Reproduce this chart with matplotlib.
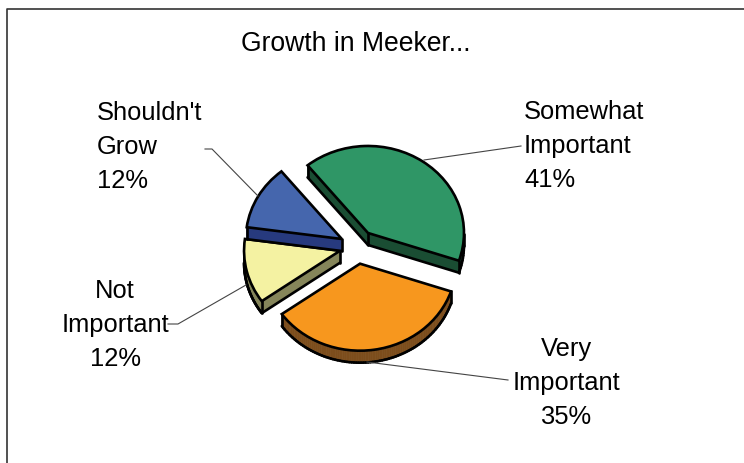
import matplotlib
matplotlib.use('Agg')
import matplotlib.pyplot as plt
import numpy as np
from matplotlib.lines import Line2D
from matplotlib.patches import Polygon

names = ['Somewhat\nImportant', 'Very\nImportant', 'Not\nImportant', "Shouldn't\nGrow"]
shares = [41, 35, 12, 12]

top_colors = ['#2F9666', '#F7971E', '#F4F2A2', '#4566AD']
side_colors = ['#1A4D33', '#7C4D1C', '#85855A', '#273A7E']

W, H = 744, 463
PIE_X, PIE_Y = 357.3, 246.9   # pie centre, pixels
RX, RY = 96.0, 87.0           # squashed radius, pixels
DEPTH = 12.0 / RY
EDGE = 1.9

plt.rcParams['font.family'] = ['Liberation Sans', 'DejaVu Sans']

fig = plt.figure(figsize=(W / 100, H / 100), dpi=100)
ax = fig.add_axes((0, 0, 1, 1))

wedges, _ = ax.pie(
    shares, colors=top_colors, explode=[0.195, 0.195, 0.185, 0.185], startangle=129,
    counterclock=False, radius=1,
    wedgeprops=dict(edgecolor='black', linewidth=EDGE, joinstyle='miter'))

# the pie call forces a round pie, squash it into a tilted disc
ax.set_aspect('auto')
ax.set_xlim(-PIE_X / RX, (W - PIE_X) / RX)
ax.set_ylim((PIE_Y - H) / RY, PIE_Y / RY)


def add_side(wedge, color, zorder):
    # sweep the wedge outline straight down to get the visible walls
    t = np.radians(np.linspace(wedge.theta1, wedge.theta2, 90))
    cx, cy = wedge.center
    xs = np.r_[cx, cx + np.cos(t), cx]
    ys = np.r_[cy, cy + np.sin(t), cy]
    n = len(xs) - 1
    corners = {0, 1, n - 1}
    facing = [xs[i + 1] > xs[i] for i in range(n)]
    for i in range(n):
        if facing[i]:
            quad = [(xs[i], ys[i]), (xs[i + 1], ys[i + 1]),
                    (xs[i + 1], ys[i + 1] - DEPTH), (xs[i], ys[i] - DEPTH)]
            ax.add_patch(Polygon(quad, facecolor=color, edgecolor=color,
                                 linewidth=0.5, zorder=zorder))
            ax.plot(xs[i:i + 2], ys[i:i + 2] - DEPTH, color='black', lw=EDGE,
                    solid_capstyle='round', zorder=zorder + 0.1)
    for i in range(n):
        before, after = facing[i - 1], facing[i]
        if (before or after) and (i in corners or before != after):
            ax.plot([xs[i], xs[i]], [ys[i], ys[i] - DEPTH], color='black',
                    lw=EDGE, solid_capstyle='round', zorder=zorder + 0.1)


# drawing order, back to front
order = [0, 2, 3, 1]
for rank, k in enumerate(order):
    z = 2 + rank
    add_side(wedges[k], side_colors[k], z)
    wedges[k].set_zorder(z + 0.2)


def pix_line(xs, ys, **kw):
    fig.add_artist(Line2D(np.array(xs) / W, 1 - np.array(ys) / H,
                          transform=fig.transFigure, **kw))


# chart area border, runs off the right and bottom
pix_line([7, 7, W + 5], [H + 5, 9, 9], color='#333333', lw=1.2)

# leader lines
leader = dict(color='#444444', lw=0.8)
pix_line([424, 521], [160, 146], **leader)
pix_line([367, 508], [362, 380], **leader)
pix_line([168, 178, 246], [324, 324, 285], **leader)
pix_line([205, 212, 258], [149, 149, 196], **leader)

fig.text(355.5 / W, 1 - 44 / H, 'Growth in Meeker...', fontsize=19.1,
         ha='center', va='center')

label_pos = [(524, 146, 'left'), (566, 383, 'center'),
             (115, 325, 'center'), (97, 147, 'left')]
for name, share, (x, y, align) in zip(names, shares, label_pos):
    fig.text(x / W, 1 - y / H, f'{name}\n{share}%', fontsize=18.4,
             ha=align, va='center', multialignment=align, linespacing=1.52)

fig.savefig('out.png', dpi=100)
